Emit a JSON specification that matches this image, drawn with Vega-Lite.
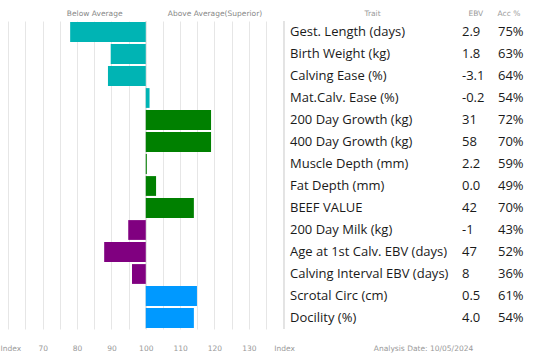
{
  "$schema": "https://vega.github.io/schema/vega-lite/v6.json",
  "padding": {"left": 0, "top": 9, "right": 0, "bottom": 8},
  "background": "white",
  "config": {"view": {"stroke": null}, "font": "DejaVu Sans"},
  "bounds": "flush",
  "spacing": 0,
  "data": {"values": [
    {"trait": "Gest. Length (days)", "index": 78, "ebv": "2.9", "acc": "75%", "group": "Calving"},
    {"trait": "Birth Weight (kg)", "index": 89.8, "ebv": "1.8", "acc": "63%", "group": "Calving"},
    {"trait": "Calving Ease (%)", "index": 89, "ebv": "-3.1", "acc": "64%", "group": "Calving"},
    {"trait": "Mat.Calv. Ease (%)", "index": 101.1, "ebv": "-0.2", "acc": "54%", "group": "Calving"},
    {"trait": "200 Day Growth (kg)", "index": 119, "ebv": "31", "acc": "72%", "group": "Growth"},
    {"trait": "400 Day Growth (kg)", "index": 119, "ebv": "58", "acc": "70%", "group": "Growth"},
    {"trait": "Muscle Depth (mm)", "index": 100.3, "ebv": "2.2", "acc": "59%", "group": "Growth"},
    {"trait": "Fat Depth (mm)", "index": 103, "ebv": "0.0", "acc": "49%", "group": "Growth"},
    {"trait": "BEEF VALUE", "index": 114, "ebv": "42", "acc": "70%", "group": "Growth"},
    {"trait": "200 Day Milk (kg)", "index": 94.9, "ebv": "-1", "acc": "43%", "group": "Maternal"},
    {"trait": "Age at 1st Calv. EBV (days)", "index": 87.9, "ebv": "47", "acc": "52%", "group": "Maternal"},
    {"trait": "Calving Interval EBV (days)", "index": 96, "ebv": "8", "acc": "36%", "group": "Maternal"},
    {"trait": "Scrotal Circ (cm)", "index": 114.9, "ebv": "0.5", "acc": "61%", "group": "Other"},
    {"trait": "Docility (%)", "index": 114, "ebv": "4.0", "acc": "54%", "group": "Other"}
  ]},
  "hconcat": [
    {
      "width": 284,
      "height": 308,
      "layer": [
        {
          "mark": {"type": "rule", "color": "#e6e6e6"},
          "encoding": {
            "x": {
              "datum": 100, "type": "quantitative",
              "scale": {"domain": [57.58, 140.23], "nice": false, "zero": false},
              "axis": {
                "orient": "top", "title": null,
                "values": [60, 65, 70, 75, 80, 85, 90, 95, 100, 105, 110, 115, 120, 125, 130, 135],
                "labelExpr": "datum.value == 85 ? 'Below Average' : (datum.value == 120 ? 'Above Average(Superior)' : '')",
                "grid": true, "gridColor": "#e6e6e6", "domain": false, "ticks": false,
                "labelPadding": 4, "labelFontSize": 7.5, "labelColor": "#888",
                "labelFlush": false, "labelOverlap": false, "labelBound": false
              }
            }
          }
        },
        {
          "mark": {"type": "bar"},
          "encoding": {
            "y": {"field": "trait", "type": "nominal", "sort": null, "axis": null,
                  "scale": {"paddingInner": 0.1, "paddingOuter": 0.05}},
            "x": {
              "field": "index", "type": "quantitative",
              "scale": {"domain": [57.58, 140.23], "nice": false, "zero": false},
              "axis": {
                "orient": "bottom", "title": null,
                "values": [57.6, 70, 80, 90, 100, 110, 120, 130],
                "labelExpr": "datum.value < 65 ? 'Index' : datum.label",
                "labelAlign": {"condition": {"test": "datum.value < 65", "value": "left"}, "value": "center"},
                "grid": false, "domain": false, "ticks": false,
                "labelPadding": 15, "labelFontSize": 7.5, "labelColor": "#999",
                "labelFlush": false, "labelOverlap": false, "labelBound": false
              }
            },
            "x2": {"datum": 100},
            "color": {
              "field": "group", "type": "nominal", "legend": null,
              "scale": {"domain": ["Calving", "Growth", "Maternal", "Other"],
                        "range": ["#00b4b4", "#008000", "#800080", "#0099ff"]}
            }
          }
        }
      ],
      "resolve": {"axis": {"x": "independent"}}
    },
    {
      "width": 176,
      "height": 308,
      "layer": [
        {
          "mark": {"type": "text", "align": "left", "dx": 6, "fontSize": 13, "font": "Open Sans", "color": "#1a1a1a"},
          "encoding": {
            "y": {"field": "trait", "type": "nominal", "sort": null, "axis": null,
                  "scale": {"paddingInner": 0.1, "paddingOuter": 0.05}},
            "x": {
              "datum": 0, "type": "quantitative",
              "scale": {"domain": [0, 1], "nice": false, "zero": false},
              "axis": {
                "orient": "top", "title": null, "values": [0.5], "labelExpr": "'Trait'",
                "grid": false, "domain": false, "ticks": false,
                "labelPadding": 4, "labelFontSize": 7.5, "labelColor": "#999",
                "labelFlush": false, "labelOverlap": false, "labelBound": false
              }
            },
            "text": {"field": "trait"}
          }
        },
        {
          "mark": {"type": "rule", "color": "#e3e3e3"},
          "encoding": {
            "x": {
              "datum": 0, "type": "quantitative",
              "scale": {"domain": [0, 1], "nice": false, "zero": false},
              "axis": {
                "orient": "bottom", "title": null, "values": [0, 0.79],
                "labelExpr": "datum.value == 0 ? 'Index' : 'Analysis Date: 10/05/2024'",
                "grid": false, "domain": false, "ticks": false,
                "labelPadding": 15, "labelFontSize": 7.5, "labelColor": "#999",
                "labelFlush": false, "labelOverlap": false, "labelBound": false
              }
            }
          }
        }
      ],
      "resolve": {"axis": {"x": "independent"}}
    },
    {
      "width": 34,
      "height": 308,
      "mark": {"type": "text", "align": "left", "dx": 2, "fontSize": 13, "font": "Open Sans", "color": "#1a1a1a"},
      "encoding": {
        "y": {"field": "trait", "type": "nominal", "sort": null, "axis": null,
              "scale": {"paddingInner": 0.1, "paddingOuter": 0.05}},
        "x": {
          "datum": 0, "type": "quantitative",
          "scale": {"domain": [0, 1], "nice": false, "zero": false},
          "axis": {
            "orient": "top", "title": null, "values": [0.45], "labelExpr": "'EBV'",
            "grid": false, "domain": false, "ticks": false,
            "labelPadding": 4, "labelFontSize": 7.5, "labelColor": "#999",
            "labelFlush": false, "labelOverlap": false, "labelBound": false
          }
        },
        "text": {"field": "ebv"}
      }
    },
    {
      "width": 36,
      "height": 308,
      "mark": {"type": "text", "align": "left", "dx": 4, "fontSize": 13, "font": "Open Sans", "color": "#1a1a1a"},
      "encoding": {
        "y": {"field": "trait", "type": "nominal", "sort": null, "axis": null,
              "scale": {"paddingInner": 0.1, "paddingOuter": 0.05}},
        "x": {
          "datum": 0, "type": "quantitative",
          "scale": {"domain": [0, 1], "nice": false, "zero": false},
          "axis": {
            "orient": "top", "title": null, "values": [0.4], "labelExpr": "'Acc %'",
            "grid": false, "domain": false, "ticks": false,
            "labelPadding": 4, "labelFontSize": 7.5, "labelColor": "#999",
            "labelFlush": false, "labelOverlap": false, "labelBound": false
          }
        },
        "text": {"field": "acc"}
      }
    }
  ]
}
